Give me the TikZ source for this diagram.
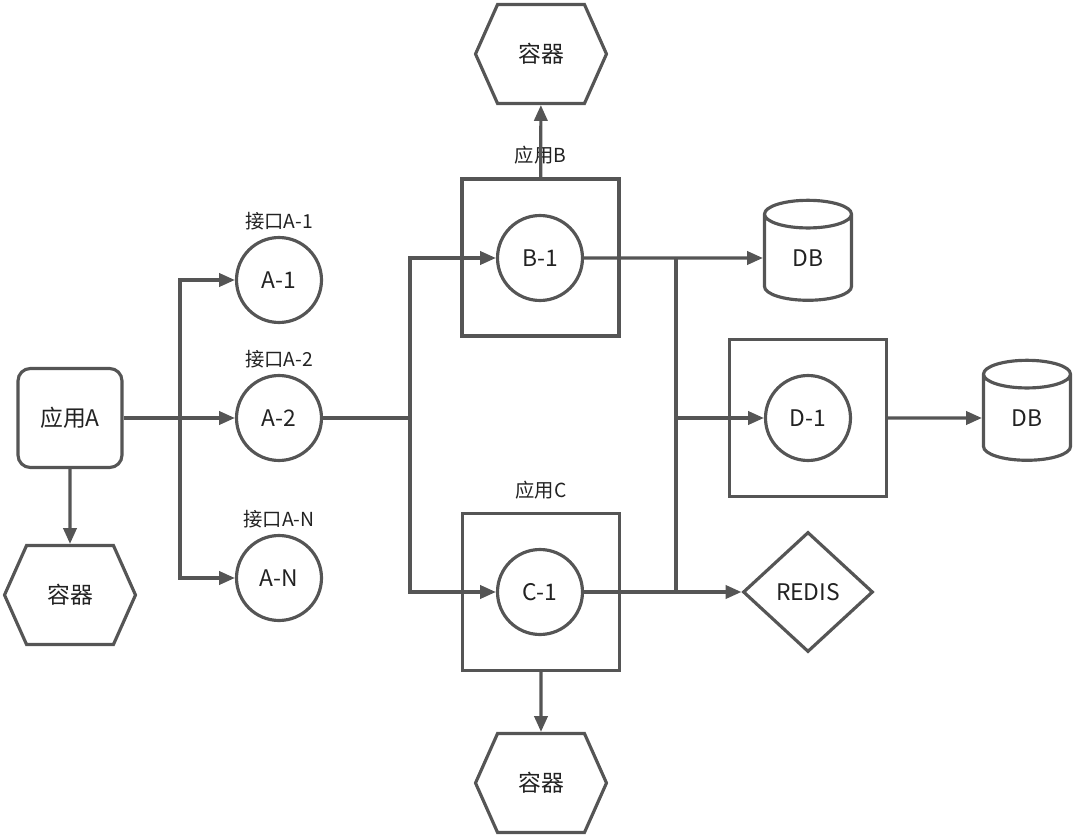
\documentclass[tikz,border=0pt]{standalone}
\usepackage{fontspec}
\setmainfont{Noto Sans CJK SC}
\usetikzlibrary{arrows.meta, shapes.geometric, shapes.symbols, positioning}
\definecolor{linegray}{HTML}{555555}
\definecolor{textgray}{HTML}{222222}

\begin{document}
\begin{tikzpicture}[x=0.02cm, y=-0.02cm, >={Triangle[length=9pt, width=7.5pt]},
    conn/.style={draw=linegray, line width=1.8pt},
    app/.style={rectangle, draw=linegray, line width=1.8pt, rounded corners=7pt, text=textgray,
                minimum width=2.08cm, minimum height=1.98cm, font=\fontsize{13}{15}\selectfont},
    appbox/.style={rectangle, draw=linegray, line width=1.8pt, minimum size=3.14cm},
    iface/.style={circle, draw=linegray, line width=1.8pt, minimum size=1.70cm, inner sep=0pt,
                text=textgray, font=\fontsize{13}{15}\selectfont},
    ctr/.style={signal, signal to=west and east, signal pointer angle=132, draw=linegray,
                line width=1.8pt, minimum width=2.62cm, minimum height=1.98cm, inner sep=0pt,
                text=textgray, font=\fontsize{13}{15}\selectfont},
    db/.style={cylinder, shape border rotate=90, aspect=0.9, draw=linegray, line width=1.8pt,
                minimum width=1.74cm, minimum height=2cm, inner sep=0pt,
                text=textgray, font=\fontsize{13}{15}\selectfont},
    cache/.style={diamond, draw=linegray, line width=1.8pt, minimum width=2.6cm,
                minimum height=2.4cm, inner sep=0pt, text=textgray, font=\fontsize{13}{15}\selectfont},
    lbl/.style={text=textgray, inner sep=1pt, font=\fontsize{11}{13}\selectfont}]

    \useasboundingbox (0,0) rectangle (1080,838);

    \node[app] (appA) at (70,418) {应用A};
    \node[ctr] (ctrA) at (70,595) {容器};

    \node[iface] (ifA1) at (279,280) {A-1};
    \node[iface] (ifA2) at (279,418) {A-2};
    \node[iface] (ifAN) at (279,578) {A-N};
    \node[lbl, above=0.08cm of ifA1] (lblA1) {接口A-1};
    \node[lbl, above=0.08cm of ifA2] (lblA2) {接口A-2};
    \node[lbl, above=0.08cm of ifAN] (lblAN) {接口A-N};

    \node[appbox] (appB) at (540.5,257.5) {};
    \node[iface] (B1) at (540,258) {B-1};
    \node[lbl, above=0.22cm of appB] (lblB) {应用B};
    \node[ctr] (ctrB) at (541,54) {容器};

    \node[appbox] (appC) at (541,592) {};
    \node[iface] (C1) at (540,592) {C-1};
    \node[lbl, above=0.22cm of appC] (lblC) {应用C};
    \node[ctr] (ctrC) at (541,783) {容器};

    \node[appbox] (appD) at (808,418) {};
    \node[iface] (D1) at (808,418) {D-1};

    \node[db] (dbB) at (808,258) {DB};
    \node[db] (dbD) at (1027,418) {DB};
    \node[cache] (redis) at (808,592) {REDIS};

    \coordinate (busA) at (180,418);
    \coordinate (busB) at (410,418);
    \coordinate (busR) at (676,258);

    \draw[conn, ->] (appA) -- (ctrA);
    \draw[conn, ->] (appA) -- (ifA2);
    \draw[conn, ->] (busA) |- (ifA1);
    \draw[conn, ->] (busA) |- (ifAN);
    \draw[conn] (ifA2) -- (busB);
    \draw[conn, ->] (busB) |- (B1);
    \draw[conn, ->] (busB) |- (C1);
    \draw[conn, ->] (appB) -- (ctrB);
    \draw[conn, ->] (appC) -- (ctrC);
    \draw[conn, ->] (B1) -- (dbB);
    \draw[conn, ->] (C1) -- (redis);
    \draw[conn] (busR) -- (busR |- C1);
    \draw[conn, ->] (busR |- D1) -- (D1);
    \draw[conn, ->] (appD) -- (dbD);
\end{tikzpicture}
\end{document}
